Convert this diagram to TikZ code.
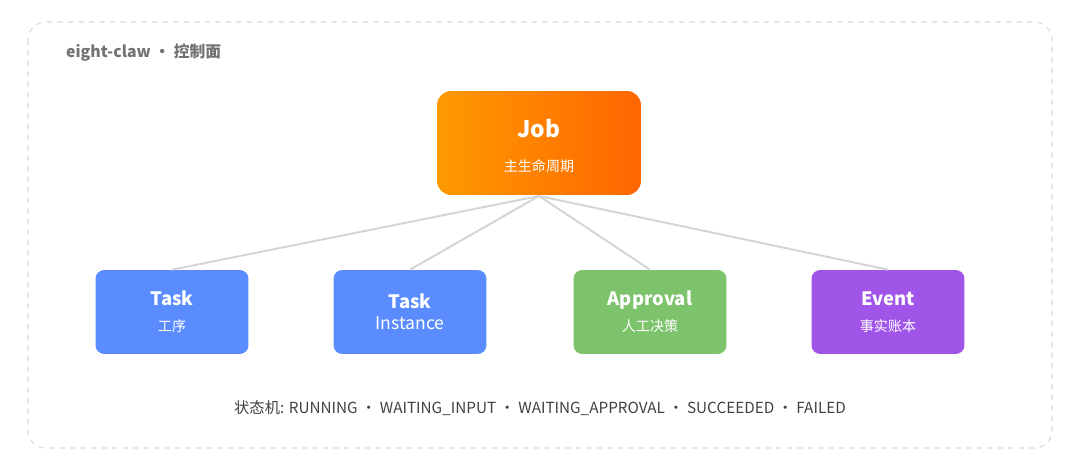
\documentclass[tikz,border=0pt]{standalone}
\usepackage{fontspec}
\setmainfont{Noto Sans CJK SC}
\usetikzlibrary{positioning}
\definecolor{jobl}{HTML}{FF9A00}
\definecolor{jobr}{HTML}{FF6600}
\definecolor{taskblue}{HTML}{5B8CFF}
\definecolor{apprgreen}{HTML}{7DC36B}
\definecolor{evpurple}{HTML}{A055E8}
\definecolor{linkgray}{HTML}{D4D4D4}
\tikzset{every picture/.style={x=0.02cm,y=-0.02cm}}

\begin{document}
\begin{tikzpicture}[
    entity/.style={             % Boxes for the child records.
      rectangle,
      rounded corners=5pt,
      text=white,
      align=center,
      minimum width=3.06cm,
      minimum height=1.68cm,
      inner sep=0pt
    },
    subtext/.style={            % Chinese caption inside a box.
      font=\fontsize{8}{10}\selectfont
    },
    link/.style={
      draw=linkgray,
      line width=1.1pt
    }]

    % Frame and page size.
    \useasboundingbox (0,0) rectangle (1080,470);
    \draw[black!15,dashed,rounded corners=10pt,line width=0.6pt]
      (28,22) rectangle (1052,448);
    \node[anchor=west,text=black!55,font=\fontsize{9}{11}\selectfont\bfseries]
      (title) at (60,53) {eight-claw · 控制面};

    % The main lifecycle.
    \node[rectangle,rounded corners=8pt,left color=jobl,right color=jobr,
      minimum width=4.08cm,minimum height=2.08cm,inner sep=0pt]
      (job) at (539,143) {};
    \node[text=white,font=\fontsize{13}{15}\selectfont\bfseries]
      (jobname) at (539,129) {Job};
    \node[text=white,subtext] (jobsub) at (539,166) {主生命周期};

    % Child records.
    \node[entity,fill=taskblue] (task) at (172,312)
      {\textbf{\fontsize{10.5}{12}\selectfont Task}\\[3pt]{\fontsize{8}{10}\selectfont 工序}};
    \node[entity,fill=taskblue] (inst) at (410,312)
      {\fontsize{10.5}{15.5}\selectfont\bfseries Task\\Instance};
    \node[entity,fill=apprgreen] (appr) at (650,312)
      {\textbf{\fontsize{10.5}{12}\selectfont Approval}\\[3pt]{\fontsize{8}{10}\selectfont 人工决策}};
    \node[entity,fill=evpurple] (event) at (888,312)
      {\textbf{\fontsize{10.5}{12}\selectfont Event}\\[3pt]{\fontsize{8}{10}\selectfont 事实账本}};

    % Connect the job to its records.
    \coordinate (hub) at (539,196);
    \foreach \n in {task,inst,appr,event}
      \draw[link] (hub) -- (\n.north);

    % State machine line.
    \node[text=black!75,font=\fontsize{8.7}{10}\selectfont] (states) at (540,408)
      {状态机: RUNNING · WAITING\_INPUT · WAITING\_APPROVAL · SUCCEEDED · FAILED};
  \end{tikzpicture}
\end{document}
